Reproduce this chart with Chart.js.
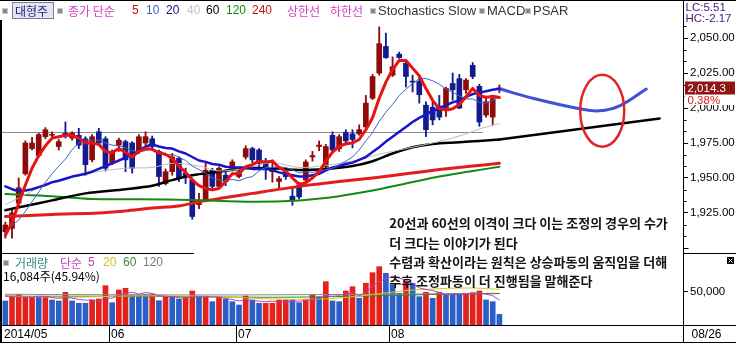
<!DOCTYPE html>
<html>
<head>
<meta charset="utf-8">
<script src="https://cdn.jsdelivr.net/npm/chart.js@4.4.1/dist/chart.umd.min.js"></script>
<style>
html,body{margin:0;padding:0;background:#fff;overflow:hidden;}
#wrap{position:relative;width:736px;height:345px;}
canvas{display:block;}
</style>
</head>
<body>
<div id="wrap"><canvas id="chart" width="736" height="345"></canvas></div>
<script>
// ---------------- data ----------------
const dates = [
 '05/09','05/12','05/13','05/14','05/15','05/16','05/19','05/20','05/21','05/22','05/23','05/26','05/27','05/28','05/29','05/30',
 '06/02','06/03','06/05','06/09','06/10','06/11','06/12','06/13','06/16','06/17','06/18','06/19','06/20','06/23','06/24','06/25','06/26','06/27','06/30',
 '07/01','07/02','07/03','07/04','07/07','07/08','07/09','07/10','07/11','07/14','07/15','07/16','07/17','07/18','07/21','07/22','07/23','07/24','07/25','07/28','07/29','07/30','07/31',
 '08/01','08/04','08/05','08/06','08/07','08/08','08/11','08/12','08/13','08/14','08/18','08/19','08/20','08/21','08/22','08/25','08/26'
];
const futureSlots = 27;

const open = [
 1911.5,1914,1932,1953,1971,1966,1979.5,1980.5,1972.5,1982,
 1978.5,1980.5,1978,1963,1983,1978,1960.5,1973.5,1976,1975,
 1969,1975,1978,1969,1946,1954.5,1964,1953.5,1948.5,1931,
 1934.5,1955.5,1944,1952,1957,1951,1965,1971,1970,1960.5,
 1954.5,1947.5,1954.5,1937,1945,1948.5,1965,1972.5,1958,1980.5,
 1971,1982.5,1981.5,1981.5,1986.5,2007,2025,2044,2023.5,2038.5,
 2032,2019,2019,2002,2000.5,2001.5,2000,2017.5,2021,2013,
 2030.5,2015.5,1995,1993.5,2013.5
];
const high = [
 1918.5,1927,1950,1976.5,1979,1982,1986,1983,1977.5,1990,
 1983,1985.5,1979.5,1981,1985.5,1979.5,1970,1978.5,1977,1976,
 1981,1983,1980,1970,1956.5,1967.5,1965,1957,1950,1939,
 1960.5,1957,1958,1955,1963,1956.5,1973,1972,1971,1964,
 1963,1951,1956,1942.5,1947,1963,1969,1976.5,1974,1983,
 1981,1984.5,1984.5,1988,2009,2024,2058,2053.5,2036.5,2040,
 2033,2023.5,2022.5,2004.5,2004.5,2009,2015,2025,2024,2021,
 2032.5,2017,2008.5,2008,2016.5
];
const low = [
 1907,1907,1929,1952,1970,1965,1978,1978,1970,1978.5,
 1977,1971,1952,1961.5,1973.5,1955,1959.5,1969,1954.5,1953.5,
 1967.5,1973.5,1970,1944,1945,1952,1947.5,1946,1920.5,1928,
 1933,1942.5,1942.5,1944.5,1955,1950,1963.5,1961,1957.5,1949,
 1947,1942.5,1949,1930.5,1935,1947,1962,1969.5,1956.5,1968,
 1969,1973.5,1971.5,1980.5,1985.5,2006,2023.5,2035.5,2022.5,2035.5,
 2015,2011.5,2003.5,1979.5,1988,1991.5,1994,2005.5,1999.5,2010.5,
 2021,1987,1993.5,1988,2011
];
const close = [
 1916.4,1925,1943,1975,1975,1981,1984.5,1981,1976,1980,
 1982,1973.5,1959.5,1979.5,1975,1957,1969,1977,1963,1957,
 1979.5,1979.5,1972.5,1951,1954.5,1965,1950,1951,1922.5,1934,
 1955.5,1944,1957,1947.5,1961.5,1954.5,1971,1963,1960.5,1958,
 1957,1949.5,1951,1934.5,1936.5,1961.5,1966,1973.5,1972.5,1970,
 1979.5,1976.5,1977.5,1984.5,2003.5,2022.5,2046,2036,2029.5,2036,
 2022.5,2018.5,2009.5,1984.5,1991.5,1993.5,2014,2013,2000,2020,
 2022.5,1990,2004.5,2006.7,2014.3
];

const ma5 = [
 1909,1918,1932,1945,1957,1966,1973,1978.5,1979.5,1980.5,
 1980.5,1978.5,1975,1975,1974,1969,1968,1971,1968.5,1965,
 1969,1971,1970.5,1968,1967,1964,1958.5,1954,1948.5,1944.5,
 1942.5,1941.5,1942.5,1947.5,1953,1953,1958,1959.5,1962,1961.5,
 1962,1957.5,1955,1950,1945.5,1946.5,1950,1954.5,1962,1968.5,
 1972.5,1974.5,1975,1977.5,1984.5,1993,2007,2018.5,2027.5,2034,
 2034,2028.5,2023,2014,2005.5,1999.5,1998.5,1999.5,2002.5,2008,
 2014,2009,2007.5,2008.5,2007.5
];
const ma10 = [
 1912,1916,1920,1926,1933,1940,1947,1953,1958.5,1963.5,
 1970.3,1975,1977,1977,1977,1975,1973.5,1973,1971.5,1969.5,
 1969,1969.5,1971,1968,1966,1967,1965,1962.5,1958.5,1956,
 1953.5,1950,1948.5,1948,1949,1948,1950,1951,1955,1957.5,
 1957.5,1958,1957.5,1956,1953.5,1954.5,1954,1955,1956,1957,
 1959.5,1962,1965,1970,1976.5,1982.5,1990.5,1997,2002.5,2009,
 2013.5,2017.5,2021,2021,2019.5,2017,2013.5,2011.5,2008.5,2006.5,
 2006.5,2004,2003.5,2005.5,2008
];
const ma20 = [
 1944,1942,1940.5,1941,1942,1943.5,1945,1947,1948,1949.5,
 1951,1952,1953,1954.5,1956.5,1958.5,1960.5,1962.5,1964.5,1966.5,
 1969.5,1972.5,1974,1972.5,1971.5,1971,1969,1967.5,1965,1962.5,
 1961.5,1960,1959.5,1958,1957.5,1957.5,1957.5,1956.5,1956.5,1956.5,
 1955.5,1954,1953,1952,1951,1951,1952,1953,1955.5,1957.5,
 1958.5,1960,1961,1963,1965,1968.5,1972,1976,1979.5,1983,
 1986.5,1990,1993,1995.5,1998,1999.5,2002,2004,2005.5,2008,
 2010,2011,2012,2013,2013.8
];
const ma40Idx = [0,7,12,18,22,25,29,32,36,40,44,48,52,56,60,64,68,71,74];
const ma40Val = [1931,1947,1953,1957,1957.5,1960.5,1958.5,1955,1957,1961,1957.5,1959,1962,1967,1971,1975,1980,1985,1989];
const ma60Idx = [0,3,7,12,18,22,25,28,32,36,40,44,48,52,55,58,61,64,68,71,74];
const ma60Val = [1927,1930,1934,1939,1942,1944.5,1948.5,1952,1954.5,1957,1957,1955.7,1956.5,1958.5,1962,1967.5,1972,1974.3,1975.5,1976.5,1977.5];
const ma120Idx = [0,7,13,20,28,37,44,50,55,60,65,70,74];
const ma120Val = [1938.5,1937,1935,1934.8,1934.3,1933,1934,1937,1941,1946,1951,1955,1958];
const ma240Idx = [0,7,14,18,22,26,29,33,37,44,50,55,60,65,70,74];
const ma240Val = [1922.5,1924,1925,1926.5,1928.5,1930,1933,1936,1939,1944,1947.5,1950,1953,1956,1958.5,1960.5];

// hand-drawn projections
const projBlueIdx = [74,79,86,89,92,96];
const projBlueVal = [2013.8,2007,1999.5,1998,2001.5,2013.6];
const projBlackIdx = [74,98];
const projBlackVal = [1977.5,1992.5];

const volume = [
 36400,43900,46500,42900,42000,42000,43200,37900,36400,49500,
 36400,32900,32900,37900,39400,59500,33800,53000,55600,45500,
 45500,46500,47000,36800,42000,42000,39400,42000,51500,42000,
 42000,35300,42000,39000,35300,30300,43900,37900,32900,32900,
 32900,37900,37900,37900,33800,39000,45500,42000,65600,36400,
 35300,51500,58000,40500,63200,79200,88300,78300,60600,48000,
 65600,63200,42900,49500,40500,49500,45500,47000,47000,48000,
 49000,51500,37900,35300,16084
];
const volUp = [
 0,1,1,1,1,0,1,0,0,1, 0,0,0,1,1,1,0,1,1,0, 0,0,1,0,1,0,0,1,1,0,
 1,0,1,0,0,0,1,0,0,1, 1,1,1,0,0,1,1,0,1,0, 0,1,1,0,1,1,1,0,0,0,
 1,0,0,1,0,1,0,0,0,1, 1,1,0,0,0
];
const volMa5 = [
 44000,43000,42500,42500,42300,43500,43300,41600,40300,41800,
 40700,38600,37600,37900,35900,40500,40700,44700,48300,49500,
 46700,49200,47900,44300,43600,42900,41400,40400,43400,43400,
 43400,42600,42600,40100,38700,36400,38100,37300,36100,35600,
 36100,34900,34900,35900,36100,37300,38800,39600,45200,45700,
 45000,46200,49400,44300,49700,58500,65800,69900,73900,70900,
 68200,63100,56100,53800,52300,49100,45600,46400,45900,47400,
 47300,48500,46700,44300,38000
];
const volMa20Idx = [0,10,19,30,40,48,55,60,65,70,74];
const volMa20Val = [44000,42000,44000,43500,39500,39500,46000,52000,55000,56000,54000];
const volMa60Idx = [0,20,40,55,65,74];
const volMa60Val = [43500,43500,42000,44000,46500,47500];
const volMa120Idx = [0,30,55,74];
const volMa120Val = [46500,45500,46500,48000];

const priceTicks = [1925,1950,1975,2000,2025,2050];
const volTicks = [50000];
const monthStarts = [0,16,35,58];
const monthLabels = ['2014/05','06','07','08'];
const lastDateLabel = '08/26';
const lastPrice = 2014.3;
const lastChange = '0.38%';
const lastVolText = '16,084주(45.94%)';
const hLineValue = 1983, hLineEndIdx = 71.5;
const circle = {idx: 89.4, value: 1998, rIdx: 3.3, rValue: 25.7};
const notes = [
 '20선과 60선의 이격이 크다 이는 조정의 경우의 수가',
 '더 크다는 이야기가 된다',
 '수렴과 확산이라는 원칙은 상승파동의 움직임을 더해',
 '추후 조정파동이 더 진행됨을 말해준다'
];

// ---------------- build ----------------
const N = dates.length + futureSlots;
const labels = dates.concat(new Array(futureSlots).fill(''));
function sparse(idx, val){ const a = new Array(N).fill(null); idx.forEach((k,j)=>{a[k]=val[j];}); return a; }
const C_UP = '#8e0b0b', C_DN = '#121c8e';
const candleCol = close.map((c,i)=> c >= open[i] ? C_UP : C_DN);
const V_UP = '#e3211d', V_DN = '#2b5fc8';

const KR = '"Noto Sans CJK KR"';
const LAT = '"Liberation Sans"';
function fmtPrice(v){ return v.toLocaleString('en-US',{minimumFractionDigits:2, maximumFractionDigits:2}); }
function fmtVol(v){ return v.toLocaleString('en-US'); }

function line(data, color, width, order, extra){
  return Object.assign({type:'line', data, borderColor:color, borderWidth:width, pointRadius:0,
    pointHoverRadius:0, tension:0, fill:false, yAxisID:'y', order,
    borderJoinStyle:'round', borderCapStyle:'round'}, extra||{});
}

const PMIN = 1896.4, PMAX = 2062.9;

const decor = {
  id:'decor',
  beforeDraw(chart){
    const c = chart.ctx; c.save(); c.fillStyle='#fff'; c.fillRect(0,0,chart.width,chart.height); c.restore();
  },
  beforeDatasetsDraw(chart){
    const {ctx, scales:{x, y}, chartArea} = chart;
    const yy = Math.round(y.getPixelForValue(hLineValue)) + 0.5;
    ctx.save(); ctx.strokeStyle='#8c8c8c'; ctx.lineWidth=1;
    ctx.beginPath(); ctx.moveTo(chartArea.left, yy); ctx.lineTo(x.getPixelForValue(hLineEndIdx), yy); ctx.stroke();
    ctx.restore();
  },
  afterDraw(chart){
    const {ctx, scales:{x, y, yv}, chartArea:ca} = chart;
    const W = chart.width;
    ctx.save();
    // ellipse annotation
    const cx = x.getPixelForValue(circle.idx), cy = y.getPixelForValue(circle.value);
    const rx = x.getPixelForValue(circle.idx + circle.rIdx) - cx;
    const ry = y.getPixelForValue(circle.value - circle.rValue) - cy;
    ctx.strokeStyle='#e42424'; ctx.lineWidth=2.5;
    ctx.beginPath(); ctx.ellipse(cx, cy, rx, ry, 0, 0, Math.PI*2); ctx.stroke();

    // frame lines
    ctx.fillStyle='#000';
    ctx.fillRect(0, 0, W, 1);
    ctx.fillRect(0, ca.top, 2, 343 - ca.top);
    const axX = Math.round(ca.right) + 0.5;
    ctx.strokeStyle='#000'; ctx.lineWidth=1;
    ctx.beginPath(); ctx.moveTo(axX, 0); ctx.lineTo(axX, 343); ctx.stroke();
    const sepY = Math.round(y.bottom) + 0.5;
    ctx.beginPath(); ctx.moveTo(0, sepY); ctx.lineTo(194, sepY); ctx.moveTo(axX, sepY); ctx.lineTo(W, sepY); ctx.stroke();
    const dTop = Math.round(ca.bottom) + 0.5, dBot = 342.5;
    ctx.beginPath(); ctx.moveTo(0, dTop); ctx.lineTo(W, dTop); ctx.moveTo(0, dBot); ctx.lineTo(W, dBot); ctx.stroke();

    // date row
    const slot = x.getPixelForValue(1) - x.getPixelForValue(0);
    ctx.font = '12px ' + LAT; ctx.textBaseline='middle'; ctx.textAlign='left'; ctx.fillStyle='#000';
    monthStarts.forEach((k, j)=>{
      const sx = Math.round(x.getPixelForValue(k) - slot/2) + 0.5;
      if (k > 0){ ctx.beginPath(); ctx.moveTo(sx, dTop); ctx.lineTo(sx, dBot); ctx.stroke(); }
      ctx.fillText(monthLabels[j], sx + 1.5, 334.5);
    });
    ctx.fillText(lastDateLabel, axX + 8, 334.5);

    // minor ticks on price axis
    for (let k = 0; ; k++){
      const v = 1900 + k*25/3;
      if (v > PMAX) break;
      const isMajor = Math.abs(v/25 - Math.round(v/25)) < 1e-6;
      if (isMajor && priceTicks.includes(Math.round(v))) continue;
      const py = Math.round(y.getPixelForValue(v)) + 0.5;
      ctx.beginPath(); ctx.moveTo(axX, py); ctx.lineTo(axX + (isMajor ? 5 : 3), py); ctx.stroke();
    }

    // last price box
    const lpY = y.getPixelForValue(lastPrice);
    ctx.fillStyle='#fff'; ctx.fillRect(axX + 1, lpY + 7, 50, 10);
    ctx.fillStyle='#8f1414'; ctx.fillRect(axX + 1.5, lpY - 6.5, 50, 13);
    ctx.font = '11.5px ' + LAT; ctx.fillStyle='#fff'; ctx.fillText('2,014.3', axX + 4, lpY + 0.5);
    ctx.fillStyle='#d41c1c'; ctx.fillText(lastChange, axX + 4, lpY + 12.5);

    // header
    function sq(px, py){ ctx.fillStyle='#c8c8c8'; ctx.fillRect(px, py, 6, 6); ctx.fillStyle='#8a8a8a'; ctx.fillRect(px+1, py+1, 4, 4); }
    sq(2, 8);
    ctx.fillStyle='#e4e4f2'; ctx.fillRect(12, 2, 42, 17);
    ctx.strokeStyle='#7c7c9c'; ctx.strokeRect(12.5, 2.5, 41, 16);
    ctx.font = '12px ' + KR; ctx.fillStyle='#1b2a78'; ctx.fillText('대형주', 15, 11);
    sq(57, 8);
    const hdr = [
      ['종가 단순', 68, '#d23cc4', KR], ['5', 132, '#c81010', LAT], ['10', 146, '#3c64c8', LAT],
      ['20', 166, '#101080', LAT], ['40', 187, '#c4c4c4', LAT], ['60', 206, '#000', LAT],
      ['120', 226, '#0f8a0f', LAT], ['240', 252, '#c81010', LAT],
      ['상한선', 287, '#d23cc4', KR], ['하한선', 330, '#d23cc4', KR]
    ];
    hdr.forEach(h=>{ ctx.font = '12px ' + h[3]; ctx.fillStyle=h[2]; ctx.fillText(h[0], h[1], 11); });
    sq(370, 8);
    ctx.font = '13px ' + LAT; ctx.fillStyle='#333';
    ctx.fillText('Stochastics Slow', 378, 11);
    sq(479, 8); ctx.fillStyle='#333'; ctx.fillText('MACD', 487, 11);
    sq(525, 8); ctx.fillStyle='#333'; ctx.fillText('PSAR', 533, 11);
    ctx.font = '11.5px ' + LAT; ctx.fillStyle='#45177a';
    ctx.fillText('LC:5.51', axX + 2, 8); ctx.fillText('HC:-2.17', axX + 2, 19);

    // volume legend
    sq(3, 260);
    const vl = [['거래량', 15, '#2f8c8c', KR], ['단순', 60, '#bf45bf', KR], ['5', 88, '#bf45bf', LAT],
                ['20', 103, '#ccc21e', LAT], ['60', 123, '#3a8c3a', LAT], ['120', 143, '#7c7c7c', LAT]];
    vl.forEach(h=>{ ctx.font = '12px ' + h[3]; ctx.fillStyle=h[2]; ctx.fillText(h[0], h[1], 263); });
    ctx.font = '12px ' + KR; ctx.fillStyle='#000'; ctx.fillText(lastVolText, 3, 276);

    // close icon
    ctx.fillStyle='#000'; ctx.fillRect(727, 257, 7, 7);
    ctx.strokeStyle='#fff'; ctx.lineWidth=1;
    ctx.beginPath(); ctx.moveTo(728.5,258.5); ctx.lineTo(732.5,262.5); ctx.moveTo(732.5,258.5); ctx.lineTo(728.5,262.5); ctx.stroke();

    // annotation text
    ctx.font = 'bold 13px ' + KR; ctx.fillStyle='#141414';
    const nx = x.getPixelForValue(58) - slot/2;
    [223, 243, 262, 281].forEach((ty, j)=> ctx.fillText(notes[j], nx, ty));
    ctx.restore();
  }
};

const datasets = [
  {type:'bar', data: high.map((h,i)=>[low[i], h]), backgroundColor: candleCol, barThickness:1.2, grouped:false, yAxisID:'y', order:30},
  {type:'bar', data: open.map((o,i)=>[o, close[i]]), backgroundColor: candleCol, barThickness:5, minBarLength:1, grouped:false, yAxisID:'y', order:29},
  {type:'bar', data: volume, backgroundColor: volUp.map(u=> u ? V_UP : V_DN), barThickness:5, grouped:false, yAxisID:'yv', order:28},
  line(sparse(ma240Idx, ma240Val), '#e31c1c', 3, 12, {spanGaps:true, tension:0.3}),
  line(sparse(ma120Idx, ma120Val), '#138a13', 2, 11, {spanGaps:true, tension:0.3}),
  line(sparse(ma60Idx, ma60Val), '#000000', 2.5, 10, {spanGaps:true, tension:0.3}),
  line(sparse(projBlackIdx, projBlackVal), '#000000', 2.5, 10, {spanGaps:true}),
  line(sparse(ma40Idx, ma40Val), '#bdbdbd', 1, 9, {spanGaps:true, tension:0.3}),
  line(ma20, '#1616c8', 2.5, 8),
  line(sparse(projBlueIdx, projBlueVal), '#3f51d6', 3, 8, {spanGaps:true, tension:0.4}),
  line(ma10, '#4364c4', 1, 7),
  line(ma5, '#e81212', 3, 6),
  line(sparse(volMa120Idx, volMa120Val), '#8a8a8a', 1, 5, {spanGaps:true, tension:0.3, yAxisID:'yv'}),
  line(sparse(volMa60Idx, volMa60Val), '#2e8b2e', 1, 4, {spanGaps:true, tension:0.3, yAxisID:'yv'}),
  line(sparse(volMa20Idx, volMa20Val), '#d6cc1a', 1, 3, {spanGaps:true, tension:0.3, yAxisID:'yv'}),
  line(volMa5, '#c03cc0', 1, 2, {yAxisID:'yv'})
];

new Chart(document.getElementById('chart'), {
  type:'bar',
  data:{labels, datasets},
  options:{
    responsive:false, animation:false, devicePixelRatio:1,
    layout:{padding:{left:2, top:20, right:0, bottom:20}},
    plugins:{legend:{display:false}, tooltip:{enabled:false}},
    events:[],
    scales:{
      x:{type:'category', offset:true, display:false, grid:{offset:true}},
      y:{position:'right', stack:'panes', stackWeight:233, min:PMIN, max:PMAX,
         afterFit(s){ s.width = 53; },
         afterBuildTicks(s){ s.ticks = priceTicks.map(v=>({value:v})); },
         ticks:{callback:(v)=>fmtPrice(v), color:'#000', font:{family:'Liberation Sans', size:11.5}, padding:2, autoSkip:false},
         grid:{drawOnChartArea:false, drawTicks:true, tickLength:5, color:'#000'},
         border:{display:true, color:'#000'}},
      yv:{position:'right', stack:'panes', stackWeight:72, min:0, max:109000,
         afterFit(s){ s.width = 53; },
         afterBuildTicks(s){ s.ticks = volTicks.map(v=>({value:v})); },
         ticks:{callback:(v)=>fmtVol(v), color:'#000', font:{family:'Liberation Sans', size:11.5}, padding:2, autoSkip:false},
         grid:{drawOnChartArea:false, drawTicks:true, tickLength:5, color:'#000'},
         border:{display:true, color:'#000'}}
    }
  },
  plugins:[decor]
});
</script>
</body>
</html>
